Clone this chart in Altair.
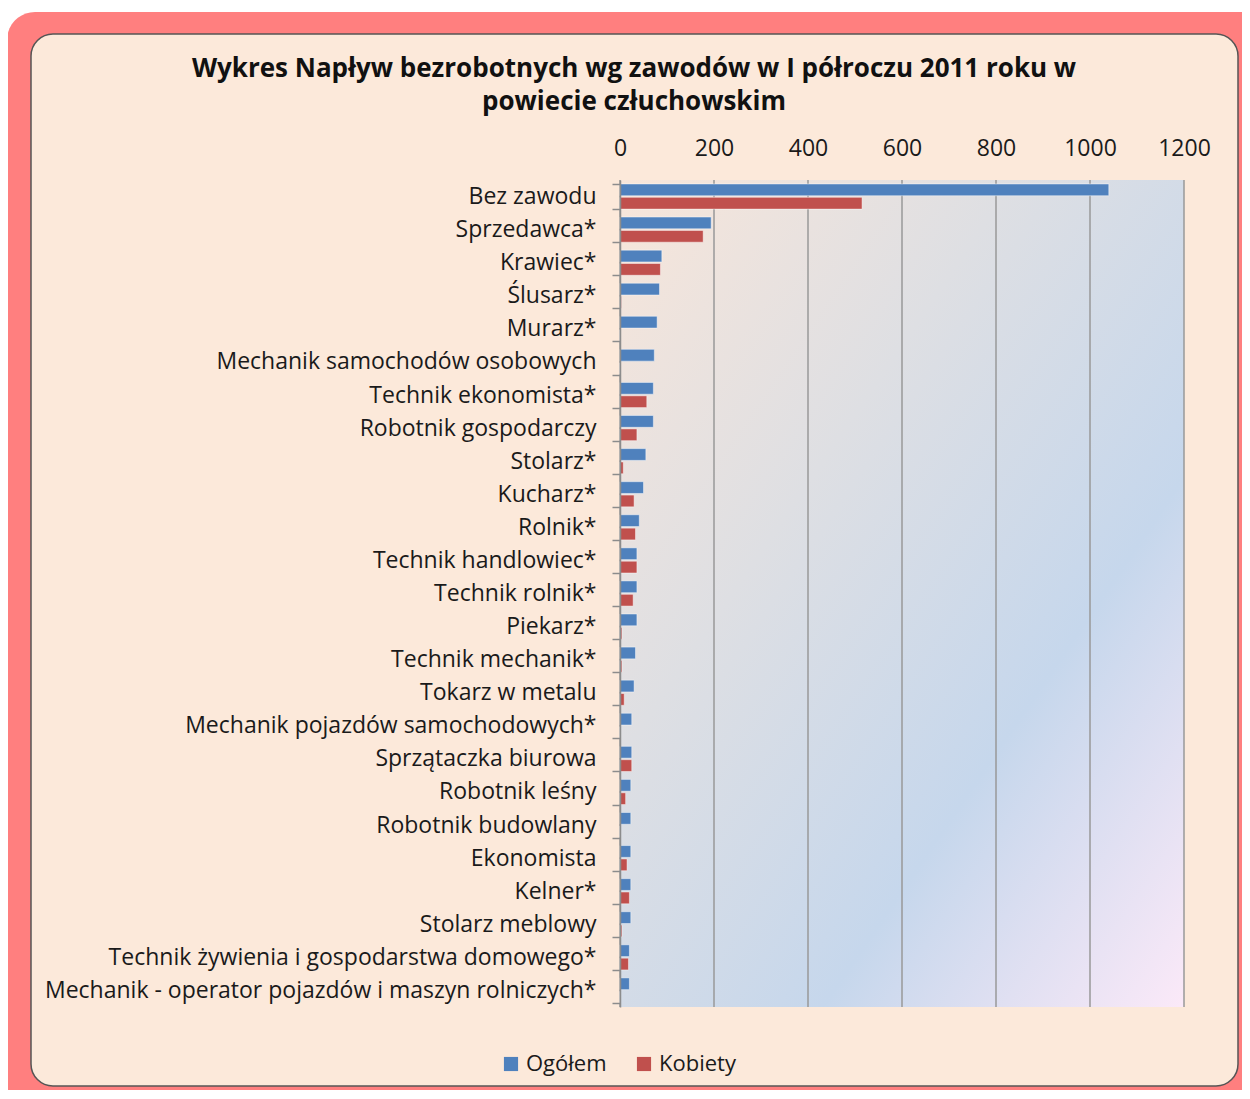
import altair as alt
import pandas as pd

categories = [
    "Bez zawodu", "Sprzedawca*", "Krawiec*", "Ślusarz*", "Murarz*",
    "Mechanik samochodów osobowych", "Technik ekonomista*", "Robotnik gospodarczy",
    "Stolarz*", "Kucharz*", "Rolnik*", "Technik handlowiec*", "Technik rolnik*",
    "Piekarz*", "Technik mechanik*", "Tokarz w metalu",
    "Mechanik pojazdów samochodowych*", "Sprzątaczka biurowa", "Robotnik leśny",
    "Robotnik budowlany", "Ekonomista", "Kelner*", "Stolarz meblowy",
    "Technik żywienia i gospodarstwa domowego*",
    "Mechanik - operator pojazdów i maszyn rolniczych*",
]
ogolem = [1040, 194, 89, 84, 79, 73, 71, 71, 55, 50, 41, 36, 36, 36, 33, 30,
          25, 25, 23, 23, 23, 23, 23, 20, 20]
kobiety = [515, 177, 86, 3, 0, 0, 57, 36, 7, 30, 33, 36, 28, 4, 4, 9,
           0, 25, 12, 0, 15, 20, 4, 18, 0]
series = ["Ogółem", "Kobiety"]
colors = ["#4F81BD", "#C0504D"]
x_ticks = [0, 200, 400, 600, 800, 1000, 1200]
title_lines = ["Wykres Napływ bezrobotnych wg zawodów w I półroczu 2011 roku w",
               "powiecie człuchowskim"]

W, H = 564, 827
FONT = "Open Sans"

rows = []
for c, o, k in zip(categories, ogolem, kobiety):
    rows.append({"kat": c, "seria": series[0], "wartosc": o})
    rows.append({"kat": c, "seria": series[1], "wartosc": k})
df = pd.DataFrame(rows)

xscale = alt.Scale(domain=[0, 1200], nice=False)

# decorative frames
outer = alt.Chart(pd.DataFrame({"a": [0]})).mark_rect(
    fill="#FF7F7F", cornerRadius=28
).encode(x=alt.value(-613), x2=alt.value(680), y=alt.value(-168), y2=alt.value(960))

inner = alt.Chart(pd.DataFrame({"a": [0]})).mark_rect(
    fill="#FCE9DA", cornerRadius=22, stroke="#555555", strokeWidth=1.5
).encode(x=alt.value(-589), x2=alt.value(618), y=alt.value(-146), y2=alt.value(906))

gradient = alt.Chart(pd.DataFrame({"a": [0]})).mark_rect(
    color=alt.Gradient(
        gradient="linear", x1=0, y1=0, x2=1, y2=1,
        stops=[
            alt.GradientStop(offset=0, color="#F8E6DA"),
            alt.GradientStop(offset=0.35, color="#DEDFE3"),
            alt.GradientStop(offset=0.68, color="#C6D7EC"),
            alt.GradientStop(offset=1, color="#FBE9F8"),
        ],
    )
).encode(x=alt.value(0), x2=alt.value(W), y=alt.value(0), y2=alt.value(H))

grid = alt.Chart(pd.DataFrame({"t": x_ticks})).mark_rule(
    color="#999999", strokeWidth=1.5
).encode(x=alt.X("t:Q", scale=xscale))

bars = alt.Chart(df).mark_bar(stroke="#FFFFFF", strokeOpacity=0.45, strokeWidth=1).encode(
    x=alt.X("wartosc:Q", scale=xscale,
            axis=alt.Axis(orient="top", values=x_ticks, title=None, grid=False,
                          format="d", domain=False, ticks=False, labelPadding=20,
                          labelFlush=False, zindex=2, labelFontSize=23, labelFont=FONT,
                          labelColor="#1A1A1A")),
    y=alt.Y("kat:N", sort=categories,
            scale=alt.Scale(paddingInner=0.24, paddingOuter=0.12),
            axis=alt.Axis(title=None, tickBand="extent", tickSize=8, zindex=2,
                          tickColor="#8C8C8C", tickWidth=1.5, domainColor="#8C8C8C",
                          domainWidth=1.5, labelPadding=16, labelFontSize=23,
                          labelFont=FONT, labelColor="#1A1A1A", labelLimit=700)),
    yOffset=alt.YOffset("seria:N", sort=series, scale=alt.Scale(paddingInner=0.12)),
    color=alt.Color("seria:N", scale=alt.Scale(domain=series, range=colors),
                    sort=series,
                    legend=alt.Legend(title=None, orient="none", direction="horizontal",
                                      legendX=-120, legendY=873, symbolType="square",
                                      symbolSize=200, symbolStrokeWidth=0, zindex=2,
                                      labelFontSize=22, labelFont=FONT,
                                      labelColor="#1A1A1A", columnPadding=26,
                                      labelOffset=4)),
)

t1 = alt.Chart(pd.DataFrame({"a": [0]})).mark_text(
    text=title_lines[0], font=FONT, fontSize=26, fontWeight="bold", color="#111111",
    align="center", baseline="middle"
).encode(x=alt.value(14), y=alt.value(-111))
t2 = alt.Chart(pd.DataFrame({"a": [0]})).mark_text(
    text=title_lines[1], font=FONT, fontSize=26, fontWeight="bold", color="#111111",
    align="center", baseline="middle"
).encode(x=alt.value(14), y=alt.value(-78))

chart = alt.layer(outer, inner, gradient, grid, bars, t1, t2).properties(
    width=W, height=H,
    autosize=alt.AutoSizeParams(type="none"),
    padding={"left": 612, "top": 172, "right": 58, "bottom": 83},
    background="white",
).configure_view(stroke=None)

chart.save("out.html", embed_options={"renderer": "svg", "actions": False})
